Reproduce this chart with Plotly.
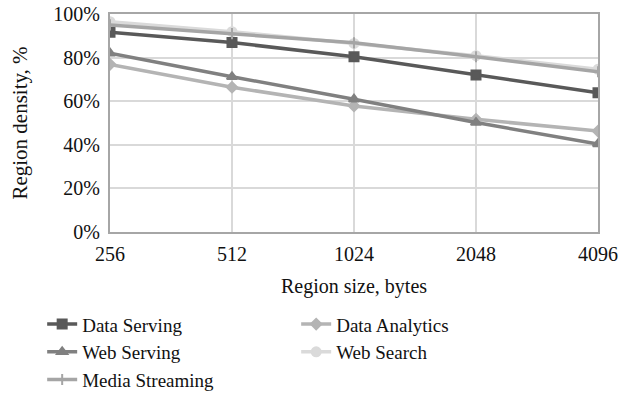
import plotly.graph_objects as go

sizes = ["256", "512", "1024", "2048", "4096"]

data_serving = [91.6, 86.9, 80.4, 72.0, 63.9]
data_analytics = [76.9, 66.4, 57.8, 51.7, 46.3]
web_serving = [82.0, 71.2, 60.9, 50.2, 40.4]
web_search = [96.5, 91.9, 86.5, 80.9, 74.6]
media_streaming = [95.0, 91.0, 86.8, 80.4, 73.5]

FONT = "Liberation Serif"

series = [
    ("Data Serving", data_serving, "#595959", "square", 9),
    ("Data Analytics", data_analytics, "#b4b4b4", "diamond", 8),
    ("Web Serving", web_serving, "#808080", "triangle-up", 9),
    ("Web Search", web_search, "#dadada", "circle", 9),
    ("Media Streaming", media_streaming, "#a5a5a5", "line-ns", 8),
]

fig = go.Figure()
x = list(range(len(sizes)))
for name, vals, col, sym, ms in series:
    fig.add_trace(go.Scatter(
        x=x, y=vals, name=name, mode="lines+markers",
        line=dict(color=col, width=3.5),
        marker=dict(symbol=sym, size=ms, color=col,
                    line=dict(color=col, width=2)),
    ))

fig.update_layout(
    width=623, height=412,
    margin=dict(l=110, r=25, t=14, b=180, autoexpand=False),
    plot_bgcolor="white", paper_bgcolor="white",
    font=dict(family=FONT, size=20, color="#111111"),
    showlegend=True,
    legend=dict(orientation="h", x=-0.139, xanchor="left", y=-0.336, yanchor="top",
                entrywidth=209, font=dict(size=19), tracegroupgap=0),
)
fig.update_xaxes(
    range=[0, 4], tickvals=x, ticktext=sizes, tickfont=dict(size=20),
    showgrid=True, gridcolor="#d9d9d9", gridwidth=1.5,
    showline=True, linecolor="#a6a6a6", linewidth=2, mirror=True,
    ticks="", ticklabelstandoff=3,
    title=dict(text="Region size, bytes", standoff=15, font=dict(size=20)),
)
fig.update_yaxes(
    range=[0, 100], dtick=20, ticksuffix="%", tickfont=dict(size=20),
    showgrid=True, gridcolor="#d9d9d9", gridwidth=1.5,
    showline=True, linecolor="#a6a6a6", linewidth=2, mirror=True,
    ticks="", ticklabelstandoff=4, ticklabeloverflow="allow",
    title=dict(text="Region density, %", standoff=20, font=dict(size=21)),
)

# drop the default body margin so the figure sits at the page corner
fig.write_html("out.html", config={"displayModeBar": False},
               post_script="document.body.style.margin='0';")
